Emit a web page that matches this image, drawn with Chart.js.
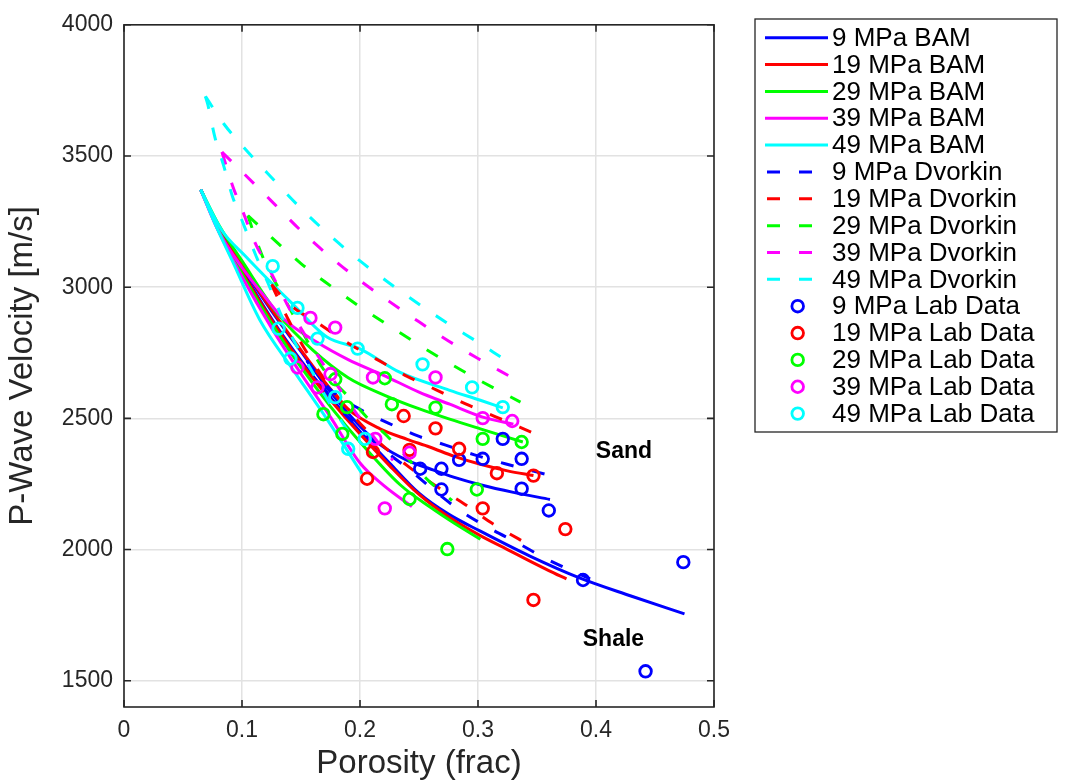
<!DOCTYPE html>
<html>
<head>
<meta charset="utf-8">
<script src="https://cdn.jsdelivr.net/npm/chart.js@4.4.1/dist/chart.umd.min.js"></script>
<style>
  html, body { margin: 0; padding: 0; background: #fff; }
  #wrap { width: 1066px; height: 784px; }
</style>
</head>
<body>
<div id="wrap"><canvas id="myChart" width="1066" height="784"></canvas></div>
<script>
// [porosity, velocity] pairs
const pressures = ['9', '19', '29', '39', '49']

// BAM - lower (shale) branch
const bamShale9 = [[0.065, 3372], [0.08, 3225], [0.1, 3065], [0.125, 2880], [0.15, 2720], [0.175, 2580], [0.2, 2450], [0.225, 2330], [0.25, 2215], [0.275, 2135], [0.302, 2070], [0.344, 1975], [0.386, 1892], [0.429, 1824], [0.475, 1755]]
const bamShale19 = [[0.065, 3372], [0.08, 3222], [0.1, 3060], [0.125, 2875], [0.15, 2712], [0.175, 2570], [0.2, 2440], [0.225, 2320], [0.25, 2210], [0.275, 2125], [0.3, 2058], [0.325, 2000], [0.344, 1956], [0.36, 1920], [0.375, 1888]]
const bamShale29 = [[0.065, 3372], [0.08, 3220], [0.1, 3052], [0.125, 2862], [0.15, 2695], [0.175, 2545], [0.2, 2410], [0.234, 2247], [0.26, 2160], [0.28, 2100], [0.302, 2039]]
const bamShale39 = [[0.065, 3372], [0.08, 3215], [0.1, 3040], [0.125, 2845], [0.15, 2670], [0.175, 2505], [0.2, 2330], [0.22, 2245], [0.244, 2164]]
const bamShale49 = [[0.065, 3372], [0.077, 3243], [0.0915, 3103], [0.115, 2876], [0.143, 2687], [0.172, 2497], [0.2017, 2289]]

// BAM - upper (sand) branch
const bamSand9 = [[0.065, 3372], [0.08, 3230], [0.1, 3080], [0.125, 2910], [0.15, 2755], [0.175, 2600], [0.2, 2470], [0.217, 2400], [0.24, 2340], [0.259, 2308], [0.28, 2275], [0.302, 2247], [0.33, 2218], [0.361, 2191]]
const bamSand19 = [[0.065, 3372], [0.08, 3232], [0.1, 3085], [0.125, 2915], [0.15, 2760], [0.17, 2640], [0.19, 2535], [0.217, 2460], [0.24, 2420], [0.259, 2391], [0.28, 2355], [0.302, 2325], [0.325, 2300], [0.347, 2282]]
const bamSand29 = [[0.065, 3372], [0.08, 3240], [0.1, 3100], [0.13, 2900], [0.16, 2760], [0.19, 2655], [0.22, 2590], [0.251, 2535], [0.276, 2497], [0.302, 2460], [0.338, 2410]]
const bamSand39 = [[0.065, 3372], [0.08, 3215], [0.1, 3075], [0.12, 2960], [0.135, 2880], [0.164, 2789], [0.19, 2724], [0.22, 2664], [0.25, 2600], [0.276, 2554], [0.304, 2505], [0.33, 2478]]
const bamSand49 = [[0.065, 3372], [0.083, 3216], [0.103, 3118], [0.125, 3016], [0.142, 2940], [0.172, 2810], [0.2, 2765], [0.234, 2675], [0.276, 2607], [0.302, 2569], [0.321, 2540]]

// Dvorkin - upper branch
const dvUp9 = [[0.155, 2720], [0.176, 2605], [0.2, 2535], [0.224, 2482], [0.249, 2433], [0.272, 2399], [0.297, 2361], [0.323, 2327], [0.359, 2285]]
const dvUp19 = [[0.125, 3010], [0.14, 2935], [0.164, 2864], [0.189, 2789], [0.217, 2718], [0.24, 2660], [0.265, 2608], [0.289, 2556], [0.314, 2508], [0.345, 2448]]
const dvUp29 = [[0.105, 3273], [0.125, 3190], [0.15, 3090], [0.175, 3005], [0.2, 2925], [0.225, 2852], [0.25, 2780], [0.275, 2712], [0.3, 2648], [0.336, 2562]]
const dvUp39 = [[0.083, 3515], [0.1, 3440], [0.125, 3328], [0.15, 3215], [0.175, 3115], [0.2, 3025], [0.225, 2945], [0.25, 2868], [0.275, 2795], [0.3, 2728], [0.329, 2655]]
const dvUp49 = [[0.069, 3727], [0.085, 3620], [0.1, 3540], [0.125, 3418], [0.15, 3300], [0.175, 3195], [0.2, 3100], [0.225, 3015], [0.25, 2935], [0.275, 2860], [0.3, 2790], [0.319, 2735]]

// Dvorkin - lower branch
const dvLow9 = [[0.155, 2720], [0.175, 2580], [0.2, 2459], [0.22, 2380], [0.241, 2308], [0.264, 2221], [0.286, 2145], [0.31, 2081], [0.334, 2024], [0.358, 1964], [0.382, 1914], [0.395, 1888]]
const dvLow19 = [[0.125, 3010], [0.14, 2870], [0.16, 2715], [0.185, 2560], [0.21, 2435], [0.24, 2320], [0.265, 2240], [0.289, 2172], [0.312, 2100], [0.335, 2039], [0.347, 2010]]
const dvLow29 = [[0.105, 3273], [0.112, 3180], [0.122, 3070], [0.132, 2989], [0.15, 2840], [0.168, 2694], [0.189, 2588], [0.208, 2494], [0.223, 2433], [0.24, 2350], [0.258, 2263], [0.278, 2187]]
const dvLow39 = [[0.083, 3515], [0.092, 3387], [0.101, 3285], [0.111, 3170], [0.124, 3061], [0.14, 2920], [0.16, 2770], [0.18, 2630], [0.2, 2500], [0.215, 2410], [0.228, 2340]]
const dvLow49 = [[0.069, 3727], [0.071, 3697], [0.077, 3572], [0.084, 3470], [0.092, 3345], [0.101, 3243], [0.112, 3118], [0.122, 3016], [0.132, 2906], [0.144, 2796], [0.158, 2690], [0.17, 2590], [0.183, 2497], [0.195, 2420]]

// lab measurements
const lab9 = [[0.251, 2308], [0.269, 2308], [0.284, 2342], [0.304, 2346], [0.321, 2422], [0.337, 2346], [0.269, 2229], [0.337, 2232], [0.36, 2149], [0.389, 1884], [0.474, 1952], [0.442, 1536]]
const lab19 = [[0.237, 2509], [0.264, 2462], [0.284, 2384], [0.316, 2291], [0.347, 2282], [0.242, 2380], [0.211, 2372], [0.206, 2270], [0.304, 2157], [0.374, 2078], [0.347, 1808]]
const lab29 = [[0.179, 2649], [0.221, 2653], [0.227, 2554], [0.189, 2543], [0.169, 2516], [0.185, 2441], [0.264, 2541], [0.304, 2422], [0.337, 2410], [0.299, 2229], [0.242, 2193], [0.274, 2002]]
const lab39 = [[0.147, 2694], [0.158, 2883], [0.179, 2846], [0.175, 2669], [0.164, 2618], [0.211, 2656], [0.264, 2656], [0.304, 2501], [0.329, 2490], [0.213, 2422], [0.242, 2369], [0.221, 2157]]
const lab49 = [[0.126, 3080], [0.147, 2921], [0.131, 2842], [0.164, 2804], [0.198, 2766], [0.141, 2728], [0.179, 2581], [0.204, 2422], [0.19, 2384], [0.253, 2706], [0.295, 2618], [0.321, 2543]]

const xTicks = [0, 0.1, 0.2, 0.3, 0.4, 0.5]
const yTicks = [1500, 2000, 2500, 3000, 3500, 4000]
const notes = [{ text: 'Sand', x: 0.4237, y: 2372 }, { text: 'Shale', x: 0.4148, y: 1657 }]

const colors = ['#0000ff', '#ff0000', '#00ff00', '#ff00ff', '#00ffff']
const bamShale = [bamShale9, bamShale19, bamShale29, bamShale39, bamShale49]
const bamSand = [bamSand9, bamSand19, bamSand29, bamSand39, bamSand49]
const dvUp = [dvUp9, dvUp19, dvUp29, dvUp39, dvUp49]
const dvLow = [dvLow9, dvLow19, dvLow29, dvLow39, dvLow49]
const labs = [lab9, lab19, lab29, lab39, lab49]

const FONT = "'Liberation Sans', Arial, Helvetica, sans-serif"
const AXIS = '#262626'
const DASH = [13, 19]

const toPts = arr => arr.map(p => ({ x: p[0], y: p[1] }))

const lineSet = (arr, color, dash) => ({
  type: 'line',
  data: toPts(arr),
  borderColor: color,
  borderWidth: 3,
  borderDash: dash,
  borderCapStyle: 'butt',
  cubicInterpolationMode: 'monotone',
  pointRadius: 0,
  fill: false
})

let datasets = []
let legendItems = []
pressures.forEach((p, i) => {
  datasets.push(lineSet(bamShale[i], colors[i], []))
  datasets.push(lineSet(bamSand[i], colors[i], []))
  legendItems.push({ kind: 'solid', color: colors[i], text: `${p} MPa BAM` })
})
pressures.forEach((p, i) => {
  datasets.push(lineSet(dvLow[i], colors[i], DASH))
  datasets.push(lineSet(dvUp[i], colors[i], DASH))
  legendItems.push({ kind: 'dash', color: colors[i], text: `${p} MPa Dvorkin` })
})
pressures.forEach((p, i) => {
  datasets.push({
    type: 'scatter',
    data: toPts(labs[i]),
    borderColor: colors[i],
    backgroundColor: 'rgba(0,0,0,0)',
    borderWidth: 2.8,
    pointRadius: 5.8,
    pointStyle: 'circle'
  })
  legendItems.push({ kind: 'mark', color: colors[i], text: `${p} MPa Lab Data` })
})
// later datasets on top, like the original plotting order
datasets.forEach((d, i) => d.order = datasets.length - i)

const framePlugin = {
  id: 'frame',
  afterDatasetsDraw(chart) {
    const { ctx, chartArea: a, scales } = chart
    ctx.save()
    ctx.strokeStyle = AXIS
    ctx.lineWidth = 1.6
    ctx.strokeRect(a.left, a.top, a.right - a.left, a.bottom - a.top)
    ctx.beginPath()
    xTicks.forEach(v => {
      const px = scales.x.getPixelForValue(v)
      ctx.moveTo(px, a.bottom); ctx.lineTo(px, a.bottom - 7)
      ctx.moveTo(px, a.top); ctx.lineTo(px, a.top + 7)
    })
    yTicks.forEach(v => {
      const py = scales.y.getPixelForValue(v)
      ctx.moveTo(a.left, py); ctx.lineTo(a.left + 7, py)
      ctx.moveTo(a.right, py); ctx.lineTo(a.right - 7, py)
    })
    ctx.stroke()

    ctx.fillStyle = '#000'
    ctx.font = `bold 23px ${FONT}`
    ctx.textAlign = 'center'
    ctx.textBaseline = 'middle'
    notes.forEach(n => ctx.fillText(n.text, scales.x.getPixelForValue(n.x), scales.y.getPixelForValue(n.y)))
    ctx.restore()
  },
  afterDraw(chart) {
    const { ctx } = chart
    const box = { left: 755, top: 19, right: 1057, bottom: 432 }
    ctx.save()
    ctx.fillStyle = '#fff'
    ctx.fillRect(box.left, box.top, box.right - box.left, box.bottom - box.top)
    ctx.strokeStyle = AXIS
    ctx.lineWidth = 1.3
    ctx.strokeRect(box.left, box.top, box.right - box.left, box.bottom - box.top)
    ctx.font = `26px ${FONT}`
    ctx.textBaseline = 'middle'
    ctx.textAlign = 'left'
    legendItems.forEach((it, i) => {
      const y = 37.7 + i * 26.85
      ctx.strokeStyle = it.color
      if (it.kind === 'mark') {
        ctx.lineWidth = 2.8
        ctx.setLineDash([])
        ctx.beginPath()
        ctx.arc(797.7, y, 5.8, 0, Math.PI * 2)
        ctx.stroke()
      } else {
        ctx.lineWidth = 3
        ctx.lineCap = 'butt'
        ctx.setLineDash(it.kind === 'dash' ? DASH : [])
        ctx.beginPath()
        ctx.moveTo(it.kind === 'dash' ? 767 : 765, y)
        ctx.lineTo(828, y)
        ctx.stroke()
        ctx.setLineDash([])
      }
      ctx.fillStyle = '#000'
      ctx.fillText(it.text, 832, y + 1)
    })
    ctx.restore()
  }
}

const ctx = document.getElementById('myChart')

const myChart = new Chart(ctx, {
  type: 'scatter',
  data: { datasets: datasets },
  options: {
    responsive: false,
    animation: false,
    devicePixelRatio: 1,
    layout: { padding: { left: 0, top: 20, right: 352, bottom: 0 } },
    plugins: {
      legend: { display: false },
      tooltip: { enabled: false }
    },
    scales: {
      x: {
        type: 'linear',
        min: 0,
        max: 0.5,
        afterFit: s => { s.height = 77 },
        afterBuildTicks: s => { s.ticks = xTicks.map(v => ({ value: v })) },
        ticks: { color: AXIS, font: { family: FONT, size: 23 }, padding: 10, maxRotation: 0, callback: v => String(v) },
        grid: { color: '#e2e2e2', lineWidth: 1.5, drawTicks: false },
        border: { display: false },
        title: { display: true, text: 'Porosity (frac)', color: AXIS, font: { family: FONT, size: 33 }, padding: { top: 0, bottom: 0 } }
      },
      y: {
        type: 'linear',
        min: 1400,
        max: 4000,
        afterFit: s => { s.width = 124 },
        afterBuildTicks: s => { s.ticks = yTicks.map(v => ({ value: v })) },
        ticks: { color: AXIS, font: { family: FONT, size: 23 }, padding: 11, callback: v => String(v) },
        grid: { color: '#e2e2e2', lineWidth: 1.5, drawTicks: false },
        border: { display: false },
        title: { display: true, text: 'P-Wave Velocity [m/s]', color: AXIS, font: { family: FONT, size: 33 }, padding: { top: 3, bottom: 3 } }
      }
    }
  },
  plugins: [framePlugin]
})
</script>
</body>
</html>
